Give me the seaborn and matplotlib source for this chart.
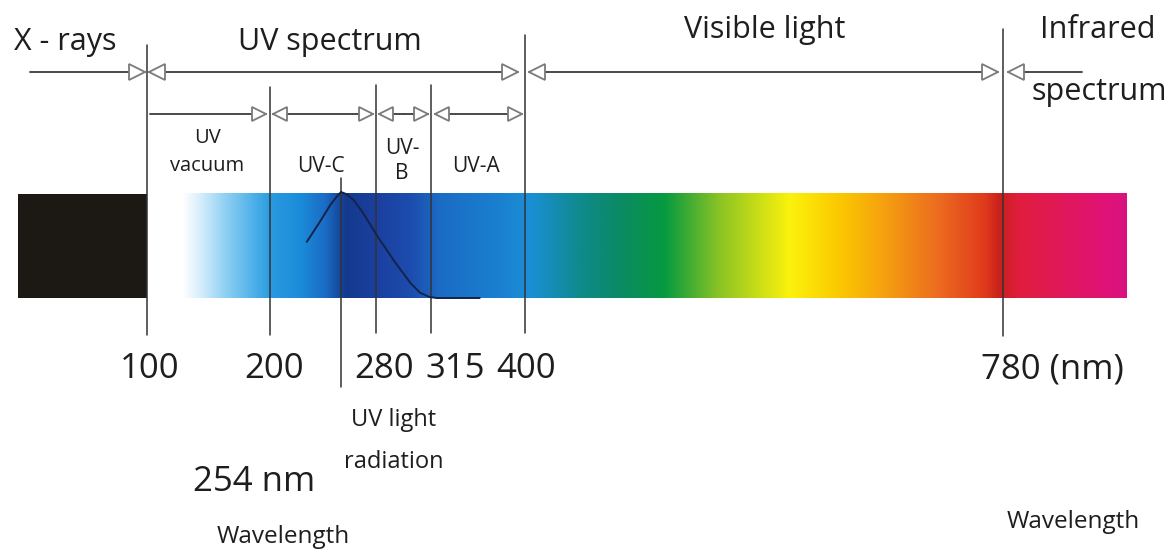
import numpy as np
import matplotlib.pyplot as plt
import seaborn as sns

# band boundaries (nm) and the labels under them
wavelengths = [100, 200, 254, 280, 315, 400, 780]
tick_labels = ["100", "200", "", "280", "315", "400", "780 (nm)"]

# band names
bands = ["X - rays", "UV spectrum", "Visible light", "Infrared"]
uv_bands = ["UV\nvacuum", "UV-C", "UV-\nB", "UV-A"]

# relative output of the UV lamp, peak at 254 nm
curve_nm = [228, 238, 246, 251, 254, 258, 263, 270, 281, 292, 302, 308, 314, 320, 359]
curve_rel = [0.53, 0.72, 0.88, 0.96, 1.0, 0.98, 0.93, 0.81, 0.58, 0.34, 0.14, 0.05, 0.01, 0.0, 0.0]

# ---- layout (pixels, the diagram is not to scale) ----
W, H = 1170, 559
xpos = [147, 270, 341, 376, 431, 525, 1003]   # where each boundary sits
line_top = [45, 87, 178, 85, 85, 35, 29]
line_bot = [335, 335, 387, 333, 333, 333, 336]
bar_x0, bar_x1, bar_y0, bar_y1 = 183, 1127, 193, 298

# colour stops of the spectrum bar
stop_x = [183, 200, 225, 250, 270, 300, 325, 345, 375, 410, 440, 500, 530,
          580, 620, 665, 720, 790, 840, 885, 940, 985, 1000, 1020, 1110, 1127]
stop_c = ["#ffffff", "#d6eefb", "#8fd0f3", "#55b4ea", "#2a9be0", "#1b8cd9",
          "#1a6cc4", "#143a8e", "#1a3f9e", "#1d4cae", "#1b6cc4", "#1a80d0",
          "#1a8fd6", "#0f8a8c", "#0b8a64", "#069a40", "#8cc424", "#fbf20c",
          "#fbc800", "#f5a010", "#ec6a20", "#e03a1c", "#c8201c", "#e01e3e",
          "#e0127a", "#d81480"]

sns.set_theme(style="white")
plt.rcParams['font.family'] = ['Open Sans', 'DejaVu Sans']

fig = plt.figure(figsize=(W / 100, H / 100), dpi=100)
ax = fig.add_axes([0, 0, 1, 1])
ax.set_xlim(0, W)
ax.set_ylim(H, 0)
ax.axis('off')

txt = '#1e1e1e'
line_c = '#4a4a4a'
head_c = '#7a7a7a'

# x-ray block
ax.fill_between([18, xpos[0]], bar_y0 + 1, bar_y1, color='#1c1814', lw=0)

# spectrum gradient
cols = np.arange(bar_x0, bar_x1 + 1)
rgb = np.array([plt.matplotlib.colors.to_rgb(c) for c in stop_c])
img = np.stack([np.interp(cols, stop_x, rgb[:, i]) for i in range(3)], axis=-1)
ax.imshow(img[None, :, :], extent=[bar_x0, bar_x1, bar_y1, bar_y0],
          aspect='auto', interpolation='bilinear', zorder=1)

# boundary lines
for x, t, b in zip(xpos, line_top, line_bot):
    ax.plot([x, x], [t, b], color='#333333', lw=1.1, zorder=3)

# emission curve
cx = np.interp(curve_nm, wavelengths, xpos)
cy = bar_y1 - np.array(curve_rel) * (bar_y1 - 192)
sns.lineplot(x=cx, y=cy, ax=ax, color='#14234a', lw=1.4, zorder=4)


def harrow(y, x0, x1, left, right, ms):
    half = ms * 100 / 72 / 2
    ax.plot([x0, x1], [y, y], color=line_c, lw=1.4, zorder=3)
    if left:
        ax.plot(x0 + half, y, marker='<', ms=ms, mfc='white', mec=head_c,
                mew=1.3, zorder=5)
    if right:
        ax.plot(x1 - half, y, marker='>', ms=ms, mfc='white', mec=head_c,
                mew=1.3, zorder=5)


# top row
harrow(72, 30, 145, False, True, 11.5)
harrow(72, 149, 518, True, True, 11.5)
harrow(72, 529, 998, True, True, 11.5)
harrow(72, 1008, 1082, True, False, 11.5)
# UV sub-bands
harrow(114, 150, 266, False, True, 10.5)
harrow(114, 273, 373, True, True, 10.5)
harrow(114, 379, 405, True, False, 10.5)
harrow(114, 403, 428, False, True, 10.5)
harrow(114, 435, 522, True, True, 10.5)

# band labels
ax.text(65, 42, bands[0], ha='center', va='center', fontsize=22, color=txt)
ax.text(330, 42, bands[1], ha='center', va='center', fontsize=22, color=txt)
ax.text(765, 30, bands[2], ha='center', va='center', fontsize=22, color=txt)
ax.text(1098, 30, bands[3], ha='center', va='center', fontsize=22, color=txt)
ax.text(1099, 92, "spectrum", ha='center', va='center', fontsize=22, color=txt)

ax.text(207, 152, uv_bands[0], ha='center', va='center', fontsize=14.5,
        color=txt, linespacing=1.55)
ax.text(321, 167, uv_bands[1], ha='center', va='center', fontsize=15, color=txt)
ax.text(402, 161, uv_bands[2], ha='center', va='center', fontsize=15,
        color=txt, linespacing=1.3)
ax.text(476, 167, uv_bands[3], ha='center', va='center', fontsize=15, color=txt)

# wavelength numbers
num_x = [150, 274, None, 384, 455, 526, 1052]
for x, lab in zip(num_x, tick_labels):
    if lab:
        ax.text(x, 369, lab, ha='center', va='center', fontsize=25, color=txt)

ax.text(394, 420, "UV light", ha='center', va='center', fontsize=17, color=txt)
ax.text(394, 462, "radiation", ha='center', va='center', fontsize=17, color=txt)
ax.text(254, 482, "254 nm", ha='center', va='center', fontsize=25, color=txt)
ax.text(283, 537, "Wavelength", ha='center', va='center', fontsize=17.5, color=txt)
ax.text(1073, 522, "Wavelength", ha='center', va='center', fontsize=17.5, color=txt)

fig.savefig('out.png', dpi=100)
